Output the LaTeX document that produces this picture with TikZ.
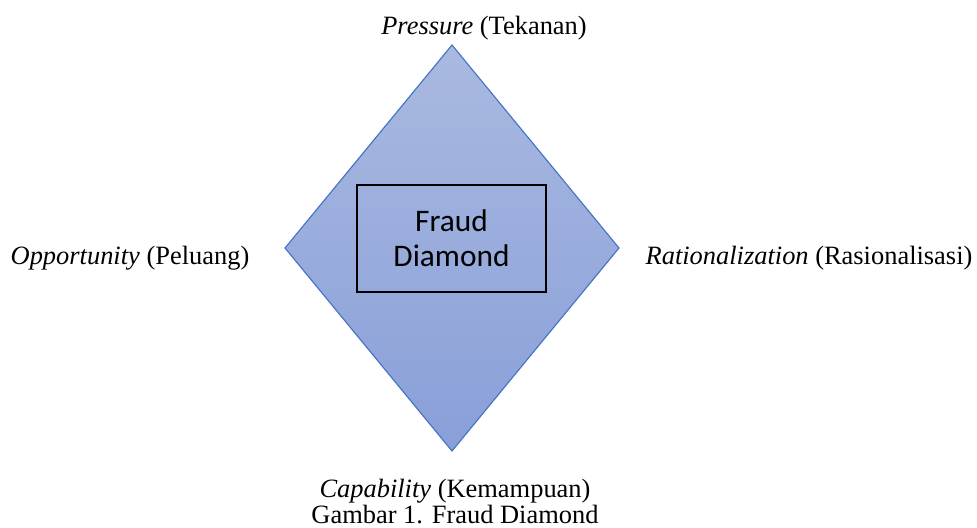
\documentclass[tikz,border=0pt]{standalone}
\usepackage{fontspec}
\setmainfont{Liberation Serif}
\newfontfamily\calibri{Carlito}
\usetikzlibrary{positioning}
\definecolor{diamtop}{HTML}{A9B9E0}
\definecolor{diambot}{HTML}{899FD8}
\definecolor{diamline}{HTML}{4472C4}
\begin{document}
\begin{tikzpicture}[x=0.025cm,y=-0.025cm,
  lbl/.style={anchor=base,inner sep=0pt,font=\fontsize{18.8}{21}\selectfont}]
\useasboundingbox (0,0) rectangle (977,527);
% diamond
\coordinate (Top) at (452,45);
\coordinate (Right) at (619,248);
\coordinate (Bot) at (452,451);
\coordinate (Left) at (285,248);
\shade[top color=diamtop,bottom color=diambot] (Top) -- (Right) -- (Bot) -- (Left) -- cycle;
\draw[diamline,line width=0.8pt,line join=miter] (Top) -- (Right) -- (Bot) -- (Left) -- cycle;
% centre box
\draw[line width=0.8pt] (357,185) rectangle (546,292);
\node(FD)[align=center,font=\calibri\fontsize{22.3}{25}\selectfont] at (451.5,238.5) {Fraud\\Diamond};
% labels
\node(Pres)[lbl] at (484,34) {\textit{Pressure} (Tekanan)};
\node(Opp)[lbl] at (130,264) {\textit{Opportunity} (Peluang)};
\node(Rat)[lbl] at (809,264) {\textit{Rationalization} (Rasionalisasi)};
\node(Cap)[lbl] at (455,497) {\textit{Capability} (Kemampuan)};
\node(Fig)[lbl] at (455,523) {Gambar 1. Fraud Diamond};
\end{tikzpicture}
\end{document}
